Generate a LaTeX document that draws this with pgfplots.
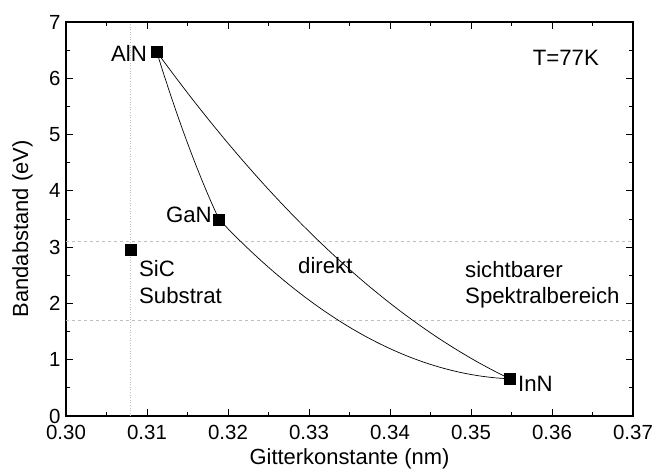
\documentclass[border=0pt]{standalone}
\usepackage{fontspec}
\setmainfont{Liberation Sans}
\usepackage{pgfplots}
\pgfplotsset{compat=1.18}
\begin{document}
\begin{tikzpicture}
\begin{axis}[
    scale only axis,
    width=567bp, height=394bp,
    xmin=0.30, xmax=0.37, ymin=0, ymax=7,
    xtick={0.30,0.31,...,0.37},
    ytick={0,1,...,7},
    minor x tick num=1,
    minor y tick num=1,
    tick align=inside,
    major tick length=7bp,
    minor tick length=4bp,
    every tick/.style={black, line width=0.9bp},
    axis line style={line width=1.2bp},
    xticklabel style={/pgf/number format/.cd, fixed, fixed zerofill, precision=2, /tikz/.cd, yshift=-6bp},
    yticklabel style={/pgf/number format/.cd, fixed, precision=0, /tikz/.cd, xshift=-2bp},
    /pgf/number format/assume math mode=true,
    tick label style={font=\fontsize{20.5}{24}\selectfont},
    label style={font=\fontsize{22}{26}\selectfont},
    xlabel={Gitterkonstante (nm)},
    ylabel={Bandabstand (eV)},
    xlabel style={at={(axis description cs:0.5,-0.108)}, anchor=center},
    ylabel style={at={(axis description cs:-0.0767,0.475)}, anchor=center},
]
% sichtbarer Bereich und SiC-Gitterkonstante
\addplot[gray!50, dashed, line width=0.6bp] coordinates {(0.30,3.1) (0.37,3.1)};
\addplot[gray!50, dashed, line width=0.6bp] coordinates {(0.30,1.7) (0.37,1.7)};
\addplot[gray!50, dotted, line width=0.6bp] coordinates {(0.308,0) (0.308,7)};

% AlN - InN
\addplot[black, line width=0.7bp, smooth] coordinates {
(0.3112,6.470) (0.31338,6.047) (0.31556,5.637) (0.31774,5.242) (0.31992,4.860)
(0.32210,4.493) (0.32428,4.139) (0.32646,3.800) (0.32864,3.474) (0.33082,3.163)
(0.33300,2.865) (0.33518,2.582) (0.33736,2.312) (0.33954,2.057) (0.34172,1.815)
(0.34390,1.588) (0.34608,1.374) (0.34826,1.175) (0.35044,0.989) (0.35262,0.818)
(0.3548,0.660)
};
% AlN - GaN
\addplot[black, line width=0.7bp, smooth] coordinates {
(0.3112,6.470) (0.31197,6.118) (0.31274,5.778) (0.31351,5.450) (0.31428,5.134)
(0.31505,4.830) (0.31582,4.538) (0.31659,4.258) (0.31736,3.990) (0.31813,3.734)
(0.3189,3.490)
};
% GaN - InN
\addplot[black, line width=0.7bp, smooth] coordinates {
(0.3189,3.490) (0.320695,3.225) (0.32249,2.973) (0.324285,2.734) (0.32608,2.508)
(0.327875,2.295) (0.32967,2.095) (0.331465,1.908) (0.33326,1.734) (0.335055,1.573)
(0.33685,1.425) (0.338645,1.290) (0.34044,1.168) (0.342235,1.059) (0.34403,0.963)
(0.345825,0.880) (0.34762,0.810) (0.349415,0.753) (0.35121,0.709) (0.353005,0.678)
(0.3548,0.660)
};
% Materialien
\addplot[only marks, mark=square*, mark size=5.5bp, black] coordinates {
(0.3112,6.47) (0.3189,3.49) (0.3548,0.66) (0.3080,2.95)
};

\begin{scope}[every node/.style={font=\fontsize{22.3}{26}\selectfont, inner sep=0pt}]
\node[anchor=base east] at (axis cs:0.3100,6.294) {AlN};
\node[anchor=base east] at (axis cs:0.31802,3.429) {GaN};
\node[anchor=base west] at (axis cs:0.3558,0.432) {InN};
\node[anchor=base west] at (axis cs:0.30901,2.487) {SiC};
\node[anchor=base west] at (axis cs:0.30901,1.990) {Substrat};
\node[anchor=base west] at (axis cs:0.32864,2.523) {direkt};
\node[anchor=base west] at (axis cs:0.34926,2.469) {sichtbarer};
\node[anchor=base west] at (axis cs:0.34926,1.990) {Spektralbereich};
\node[anchor=base west] at (axis cs:0.3576,6.236) {T=77K};
\end{scope}
\end{axis}
\pgfresetboundingbox
\useasboundingbox (-66bp,-53bp) rectangle (588bp,416bp);
\end{tikzpicture}
\end{document}
